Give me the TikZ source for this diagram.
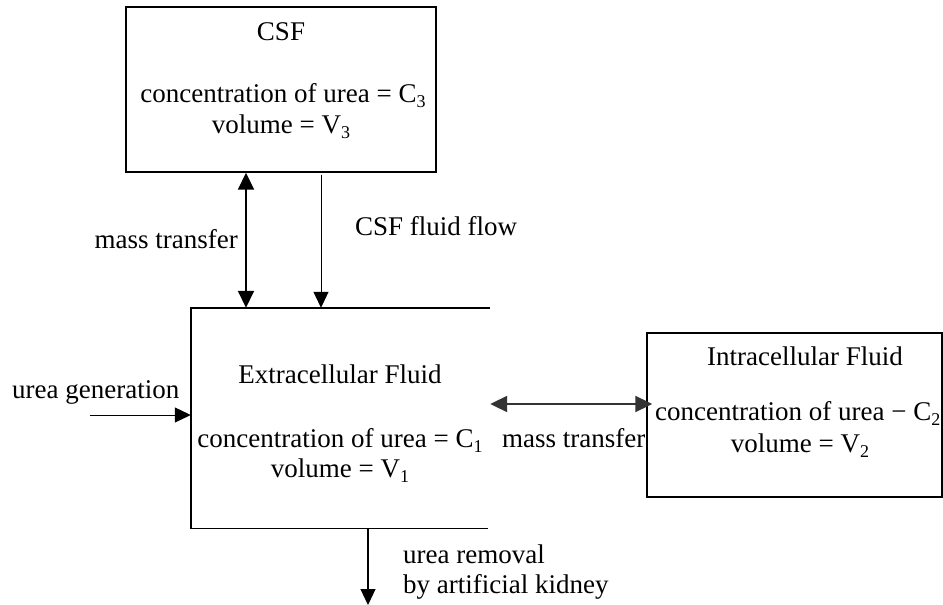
\documentclass[tikz,border=0pt]{standalone}
\usepackage{fontspec}
\setmainfont{Liberation Serif}
\usetikzlibrary{arrows.meta}
\newcommand{\sbs}[1]{\raisebox{-0.22em}{\fontsize{18}{18}\selectfont #1}}
\begin{document}
\begin{tikzpicture}[x=1pt,y=-1pt,
  box/.style={draw=black,line width=1.4pt,minimum width=#1,inner sep=0pt},
  txt/.style={anchor=base,inner sep=0pt,font=\fontsize{27}{30}\selectfont},
  tip/.style={-{Triangle[length=16pt,width=15pt]}},
  dtip/.style={{Triangle[length=17pt,width=16pt]}-{Triangle[length=17pt,width=16pt]}}]
\useasboundingbox (0,0) rectangle (943,605);
% boxes
\node[box=310pt,minimum height=165pt] (csf) at (281,89.5) {};
\node[draw=none,minimum width=299pt,minimum height=220pt,inner sep=0pt] (ecf) at (340.5,418) {};
\draw[line width=1.4pt] (ecf.north east) -- (ecf.north west) -- (ecf.south west) -- ([xshift=-2pt]ecf.south east);
\node[box=295pt,minimum height=164pt] (icf) at (794.5,415) {};
% box texts
\node[txt] (t1) at (281,40) {CSF};
\node[txt] (t2) at (283,102) {concentration of urea = C\sbs{3}};
\node[txt] (t3) at (281,133) {volume = V\sbs{3}};
\node[txt] (t4) at (340,383) {Extracellular Fluid};
\node[txt] (t5) at (340,447) {concentration of urea = C\sbs{1}};
\node[txt] (t6) at (340,477) {volume = V\sbs{1}};
\node[txt] (t7) at (805,365) {Intracellular Fluid};
\node[txt,anchor=base west] (t8) at (655,420) {concentration of urea − C\sbs{2}};
\node[txt] (t9) at (800,452) {volume = V\sbs{2}};
% labels
\node[txt,anchor=base east] (l1) at (238,248) {mass transfer};
\node[txt,anchor=base west] (l2) at (355,235) {CSF fluid flow};
\node[txt,anchor=base west] (l3) at (12,398) {urea generation};
\node[txt,anchor=base west] (l4) at (502,447) {mass transfer};
\node[txt,anchor=base west] (l5) at (403,563) {urea removal};
\node[txt,anchor=base west] (l6) at (403,593) {by artificial kidney};
% connectors
\coordinate (mtx) at (246,0);
\coordinate (cfx) at (321,0);
\coordinate (ugs) at (90,415);
\coordinate (urx) at (368,0);
\coordinate (ure) at (368,605);
\coordinate (hy) at (0,404);
\draw[dtip,line width=1.8pt] (csf.south -| mtx) -- (ecf.north -| mtx);
\draw[tip,line width=1pt] ([yshift=-2pt]csf.south -| cfx) -- (ecf.north -| cfx);
\draw[tip,line width=1pt] (ugs) -- (ecf.west |- ugs);
\draw[dtip,line width=2pt,draw=black!80] (ecf.east |- hy) -- ([xshift=6pt]icf.west |- hy);
\draw[tip,line width=1.2pt] (ecf.south -| urx) -- (ure);
\end{tikzpicture}
\end{document}
